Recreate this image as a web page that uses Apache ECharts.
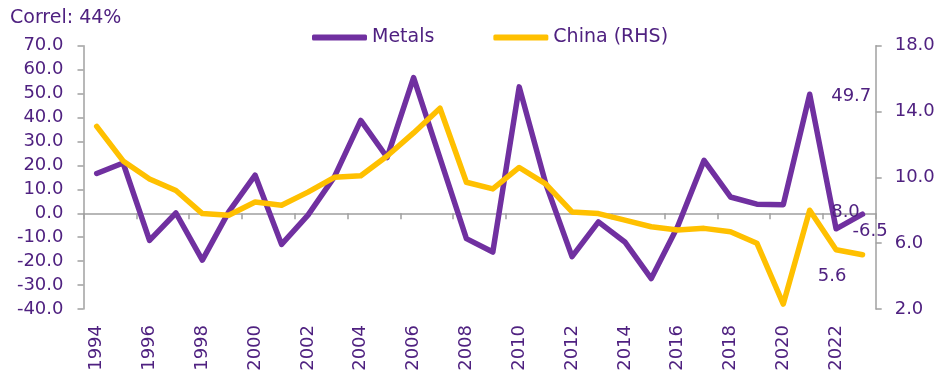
<!DOCTYPE html>
<html>
<head>
<meta charset="utf-8">
<script src="https://cdn.jsdelivr.net/npm/echarts@6/dist/echarts.min.js"></script>
<style>
  html, body { margin: 0; padding: 0; background: #fff; }
  #chart { width: 937px; height: 371px; }
</style>
</head>
<body>
<div id="chart"></div>
<script>
// Years on the category axis
const years = ['1994','1995','1996','1997','1998','1999','2000','2001','2002','2003',
  '2004','2005','2006','2007','2008','2009','2010','2011','2012','2013',
  '2014','2015','2016','2017','2018','2019','2020','2021','2022','2023'];

// Metals, % change (left axis)
const metals = [16.6, 21.0, -11.3, 0.1, -19.6, 0.6, 15.9, -13.0, -0.8, 15.2,
  38.8, 23.3, 56.7, 23.0, -10.6, -16.2, 52.8, 12.5, -18.1, -3.6,
  -12.0, -27.3, -5.5, 22.1, 6.8, 3.8, 3.6, 49.7, -6.5, -0.4];

// China real GDP growth, % (right axis)
const china = [13.1, 11.0, 9.9, 9.2, 7.8, 7.7, 8.5, 8.3, 9.1, 10.0,
  10.1, 11.3, 12.7, 14.2, 9.7, 9.3, 10.6, 9.6, 7.9, 7.8,
  7.4, 7.0, 6.8, 6.9, 6.7, 6.0, 2.3, 8.0, 5.6, 5.3];

// Axis ticks
const lhsMin = -40, lhsMax = 70, lhsStep = 10;
const rhsTicks = [2, 6, 10, 14, 18];

const PURPLE = '#7030A0';
const GOLD = '#FFC000';
const TEXT = '#4f2180';
const GREY = '#a0a0a0';
const FONT = 'DejaVu Sans';

// Value labels shown on a few recent points
const metalsLabels = {
  '2021': { position: 'right', distance: 21, offset: [0, 2] },
  '2022': { position: 'right', distance: 16, offset: [0, 3] }
};
const chinaLabels = {
  '2021': { position: 'right', distance: 21, offset: [0, 2] },
  '2022': { position: 'bottom', distance: 17, offset: [-4, 0] }
};

function buildData(values, labels) {
  return values.map((v, i) => {
    const lab = labels[years[i]];
    if (!lab) return v;
    return {
      value: v,
      label: Object.assign({
        show: true,
        formatter: (p) => Number(p.value).toFixed(1),
        color: TEXT,
        fontFamily: FONT,
        fontSize: 18
      }, lab)
    };
  });
}

const chart = echarts.init(document.getElementById('chart'), null, { renderer: 'canvas' });

chart.setOption({
  animation: false,
  backgroundColor: '#ffffff',
  textStyle: { fontFamily: FONT },
  graphic: [{
    type: 'text',
    left: 10,
    top: 9,
    style: {
      text: 'Correl: 44%',
      fill: TEXT,
      font: '19px "DejaVu Sans"'
    }
  }],
  legend: {
    left: 307,
    top: 23,
    icon: 'roundRect',
    itemWidth: 55,
    itemHeight: 6,
    itemGap: 59,
    textStyle: { color: TEXT, fontSize: 19, fontFamily: FONT },
    data: ['Metals', 'China (RHS)']
  },
  grid: {
    left: 83.5,
    right: 61.3,
    top: 45.7,
    bottom: 62,
    containLabel: false,
    outerBoundsMode: 'none'
  },
  xAxis: [{
    type: 'category',
    data: years,
    boundaryGap: true,
    axisLine: { show: true, onZero: true, onZeroAxisIndex: 0, lineStyle: { color: GREY, width: 1.5 } },
    axisTick: { show: true, interval: 1, length: 6, lineStyle: { color: GREY, width: 1.5 } },
    axisLabel: { show: false },
    splitLine: { show: false }
  }, {
    type: 'category',
    data: years,
    position: 'bottom',
    boundaryGap: true,
    axisLine: { show: false, onZero: false },
    axisTick: { show: false },
    axisLabel: {
      interval: 1,
      rotate: 90,
      margin: 16,
      color: TEXT,
      fontSize: 18,
      fontFamily: FONT
    },
    splitLine: { show: false }
  }],
  yAxis: [{
    type: 'value',
    position: 'left',
    min: lhsMin,
    max: lhsMax,
    interval: lhsStep,
    axisLine: { show: true, onZero: false, lineStyle: { color: GREY, width: 1.5 } },
    axisTick: { show: true, inside: false, length: 6, lineStyle: { color: GREY, width: 1.5 } },
    axisLabel: {
      margin: 20,
      color: TEXT,
      fontSize: 18,
      fontFamily: FONT,
      formatter: (v) => v.toFixed(1)
    },
    splitLine: { show: false }
  }, {
    type: 'value',
    position: 'right',
    min: rhsTicks[0],
    max: rhsTicks[rhsTicks.length - 1],
    axisLine: { show: true, onZero: false, lineStyle: { color: GREY, width: 1.5 } },
    axisTick: { show: true, inside: false, length: 6, customValues: rhsTicks, lineStyle: { color: GREY, width: 1.5 } },
    axisLabel: {
      margin: 19,
      color: TEXT,
      fontSize: 18,
      fontFamily: FONT,
      customValues: rhsTicks,
      formatter: (v) => v.toFixed(1)
    },
    splitLine: { show: false }
  }],
  series: [{
    name: 'Metals',
    type: 'line',
    xAxisIndex: 0,
    yAxisIndex: 0,
    data: buildData(metals, metalsLabels),
    showSymbol: true,
    symbol: 'circle',
    symbolSize: 1,
    itemStyle: { color: PURPLE },
    lineStyle: { color: PURPLE, width: 5.5, cap: 'round', join: 'round' },
    emphasis: { disabled: true },
    z: 2
  }, {
    name: 'China (RHS)',
    type: 'line',
    xAxisIndex: 0,
    yAxisIndex: 1,
    data: buildData(china, chinaLabels),
    showSymbol: true,
    symbol: 'circle',
    symbolSize: 1,
    itemStyle: { color: GOLD },
    lineStyle: { color: GOLD, width: 5.5, cap: 'round', join: 'round' },
    emphasis: { disabled: true },
    z: 3
  }]
});
</script>
</body>
</html>
